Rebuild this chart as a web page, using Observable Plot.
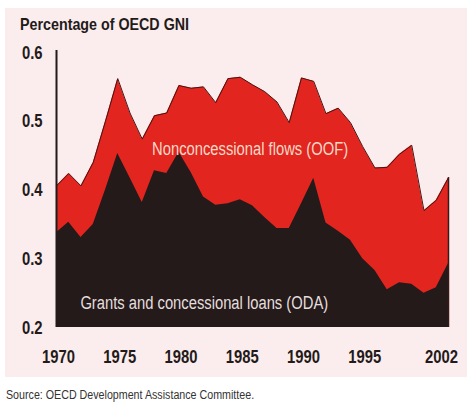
<!DOCTYPE html>
<html><head><meta charset="utf-8">
<script src="https://cdn.jsdelivr.net/npm/d3@7"></script>
<script src="https://cdn.jsdelivr.net/npm/@observablehq/plot@0.6"></script>
<style>
body{margin:0;background:#fff;width:467px;height:408px;position:relative;overflow:hidden;font-family:"Liberation Sans",Arial,sans-serif}
#panel{position:absolute;left:5px;top:8px;width:462px;height:369px;background:#fbeded}
#title{position:absolute;left:20px;top:15px;font-size:17px;font-weight:bold;color:#231a1a;white-space:nowrap;transform:scaleX(0.84);transform-origin:left center}
#chart{position:absolute;left:0;top:0}
#source{position:absolute;left:6px;top:388px;font-size:12px;color:#333;white-space:nowrap;transform:scaleX(0.89);transform-origin:left center}
</style></head>
<body>
<div id="panel"></div>
<div id="title">Percentage of OECD GNI</div>
<div id="chart"></div>
<div id="source">Source: OECD Development Assistance Committee.</div>
<script>
const years = [1970,1971,1972,1973,1974,1975,1976,1977,1978,1979,1980,1981,1982,1983,1984,1985,1986,1987,1988,1989,1990,1991,1992,1993,1994,1995,1996,1997,1998,1999,2000,2001,2002];
const totalFlows = [0.406,0.424,0.406,0.44,0.50,0.562,0.512,0.474,0.508,0.512,0.552,0.548,0.550,0.527,0.562,0.564,0.553,0.543,0.528,0.498,0.563,0.558,0.511,0.519,0.498,0.463,0.432,0.433,0.452,0.465,0.370,0.385,0.418];
const odaFlows = [0.338,0.353,0.331,0.35,0.40,0.453,0.418,0.382,0.428,0.424,0.455,0.425,0.39,0.378,0.38,0.386,0.377,0.36,0.344,0.344,0.38,0.417,0.352,0.34,0.327,0.30,0.283,0.255,0.265,0.263,0.25,0.258,0.293];
const yTicks = [0.2,0.3,0.4,0.5,0.6];
const xTicks = [1970,1975,1980,1985,1990,1995];
const xEndTick = [2002];
const seriesLabels = ["Nonconcessional flows (OOF)","Grants and concessional loans (ODA)"];
const labelYears = [1977.8,1971.95];
const labelValues = [0.46,0.236];

const yDomain = [0.2,0.6];
const xDomain = [1970,2002];
const data = years.map((year,i)=>({year,total:totalFlows[i],oda:odaFlows[i]}));
const labels = seriesLabels.map((text,i)=>({text,year:labelYears[i],value:labelValues[i]}));
const last = data[data.length-1];

const chart = Plot.plot({
  width:467, height:380,
  marginLeft:56, marginRight:19, marginTop:52, marginBottom:53,
  style:{background:"transparent", fontFamily:'"Liberation Sans",Arial,sans-serif', fontSize:"19px", color:"#231a1a"},
  x:{domain:xDomain},
  y:{domain:yDomain},
  marks:[
    Plot.areaY(data,{x:"year", y1:yDomain[0], y2:"total", fill:"#e2261f"}),
    Plot.lineY(data,{x:"year", y:"total", stroke:"#4a1414", strokeWidth:1}),
    Plot.areaY(data,{x:"year", y1:yDomain[0], y2:"oda", fill:"#241a1a"}),
    Plot.ruleX([last],{x:"year", y1:yDomain[0], y2:"total", stroke:"#3a1818", strokeWidth:1.5}),
    Plot.ruleX([xDomain[0]],{y1:yDomain[0], y2:yDomain[1]+0.003, stroke:"#231a1a", strokeWidth:2}),
    Plot.axisY({ticks:yTicks, tickFormat:".1f", tickSize:0, tickPadding:14, label:null, fontWeight:"bold", fontSize:19}),
    Plot.axisX({ticks:xTicks, tickFormat:"d", tickSize:0, tickPadding:22, label:null, fontWeight:"bold", fontSize:19, dx:2}),
    Plot.axisX({ticks:xEndTick, tickFormat:"d", tickSize:0, tickPadding:22, label:null, fontWeight:"bold", fontSize:19, dx:-7}),
    Plot.text(labels.slice(0,1),{x:"year", y:"value", text:"text", textAnchor:"start", fill:"#f6d9c8", fontSize:18}),
    Plot.text(labels.slice(1),{x:"year", y:"value", text:"text", textAnchor:"start", fill:"#e4dede", fontSize:18})
  ]
});
document.getElementById("chart").appendChild(chart);
// condense the glyphs horizontally (the reference uses a condensed typeface)
chart.querySelectorAll("text").forEach(t=>{
  const isLabel = t.closest('g[aria-label="text"]') !== null;
  const sx = isLabel ? 0.82 : 0.78;
  const w = t.getComputedTextLength();
  if (w > 0) {
    t.setAttribute("textLength", (w*sx).toFixed(2));
    t.setAttribute("lengthAdjust", "spacingAndGlyphs");
  }
});
</script>
</body></html>
